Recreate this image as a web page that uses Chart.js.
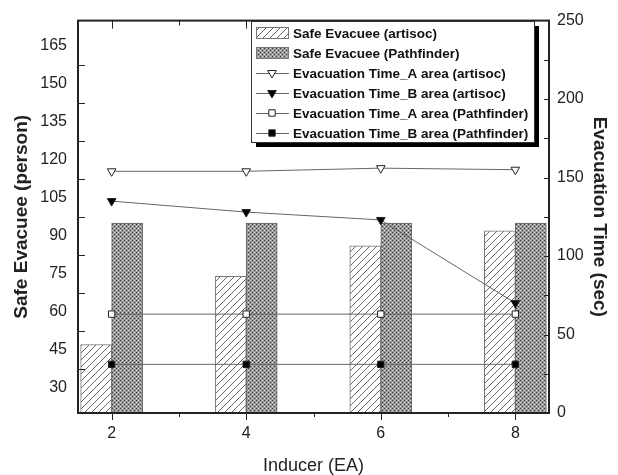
<!DOCTYPE html>
<html>
<head>
<meta charset="utf-8">
<style>
  html, body { margin: 0; padding: 0; background: #fff; }
  #wrap { width: 618px; height: 475px; }
</style>
</head>
<body>
<div id="wrap"><canvas id="evacChart"></canvas></div>
<script src="https://cdn.jsdelivr.net/npm/chart.js"></script>
<script>
    // data
    const inducers = [2, 4, 6, 8];
    const safeArtisoc = [47, 74, 86, 92];
    const safePathfinder = [95, 95, 95, 95];
    const timeAArtisoc = [154, 154, 156, 155];
    const timeBArtisoc = [135, 128, 123, 70];
    const timeAPathfinder = [63, 63, 63, 63];
    const timeBPathfinder = [31, 31, 31, 31];

    const personTicks = [30, 45, 60, 75, 90, 105, 120, 135, 150, 165];
    const secTicks = [0, 50, 100, 150, 200, 250];
    const inducerTicks = [2, 4, 6, 8];

    const FONT = "Arial, 'Liberation Sans', sans-serif";
    Chart.defaults.font.family = FONT;
    Chart.defaults.color = '#222';

    const toPoints = (vals) => vals.map((v, i) => ({ x: inducers[i], y: v }));

    // fill patterns for the bars
    function hatchPattern() {
        const c = document.createElement('canvas');
        c.width = 7; c.height = 7;
        const g = c.getContext('2d');
        g.fillStyle = '#fff';
        g.fillRect(0, 0, 7, 7);
        g.strokeStyle = '#666';
        g.lineWidth = 1;
        g.beginPath();
        g.moveTo(-1, 8); g.lineTo(8, -1);
        g.moveTo(-8, 8); g.lineTo(1, -1);
        g.moveTo(6, 8); g.lineTo(15, -1);
        g.stroke();
        return g.createPattern(c, 'repeat');
    }
    function crossPattern() {
        const c = document.createElement('canvas');
        c.width = 4; c.height = 4;
        const g = c.getContext('2d');
        g.fillStyle = '#9a9a9a';
        g.fillRect(0, 0, 4, 4);
        g.fillStyle = '#333';
        g.fillRect(0, 0, 1, 1);
        g.fillRect(2, 2, 1, 1);
        g.fillStyle = '#dcdcdc';
        g.fillRect(2, 0, 1, 1);
        g.fillRect(0, 2, 1, 1);
        return g.createPattern(c, 'repeat');
    }
    const hatch = hatchPattern();
    const cross = crossPattern();

    // axis frame with inward / outward tick marks, Origin style
    const frameTicks = {
        id: 'frameTicks',
        afterDraw(chart) {
            const { ctx, chartArea: a, scales } = chart;
            ctx.save();
            ctx.strokeStyle = '#222';
            ctx.lineWidth = 1;
            ctx.beginPath();
            for (let v = 2; v <= 8; v++) {
                const px = Math.round(scales.x.getPixelForValue(v)) + 0.5;
                const len = v % 2 === 0 ? 7 : 4;
                ctx.moveTo(px, a.bottom); ctx.lineTo(px, a.bottom + len);
                ctx.moveTo(px, a.top); ctx.lineTo(px, a.top + len + 1);
            }
            for (let i = 0; i < personTicks.length - 1; i++) {
                const py = Math.round(scales.y.getPixelForValue((personTicks[i] + personTicks[i + 1]) / 2)) + 0.5;
                ctx.moveTo(a.left, py); ctx.lineTo(a.left + 7, py);
            }
            for (let v = 25; v < 250; v += 25) {
                const py = Math.round(scales.y2.getPixelForValue(v)) + 0.5;
                ctx.moveTo(a.right, py); ctx.lineTo(a.right - 5, py);
            }
            ctx.stroke();
            ctx.lineWidth = 2;
            ctx.strokeRect(a.left, a.top, a.right - a.left, a.bottom - a.top);
            ctx.restore();
        }
    };

    // boxed legend with drop shadow
    const boxLegend = {
        id: 'boxLegend',
        afterDraw(chart) {
            const ctx = chart.ctx;
            const x0 = 251, y0 = 21, w = 283, h = 121;
            ctx.save();
            ctx.fillStyle = '#000';
            ctx.fillRect(x0 + 5, y0 + 5, w, h);
            ctx.fillStyle = '#fff';
            ctx.fillRect(x0, y0, w, h);
            ctx.strokeStyle = '#333';
            ctx.lineWidth = 1;
            ctx.strokeRect(x0 + 0.5, y0 + 0.5, w, h);
            ctx.font = 'bold 13.5px ' + FONT;
            ctx.textBaseline = 'middle';
            chart.data.datasets.forEach((ds, i) => {
                const cy = y0 + 12 + i * 20;
                if (ds.type === 'bar') {
                    ctx.fillStyle = ds.backgroundColor;
                    ctx.fillRect(256, cy - 6, 33, 12);
                    ctx.strokeStyle = '#777';
                    ctx.strokeRect(256.5, cy - 5.5, 32, 11);
                } else {
                    ctx.strokeStyle = ds.borderColor;
                    ctx.beginPath();
                    ctx.moveTo(256, cy + 0.5); ctx.lineTo(289, cy + 0.5);
                    ctx.stroke();
                    ctx.fillStyle = ds.pointBackgroundColor;
                    ctx.strokeStyle = ds.pointBorderColor;
                    Chart.helpers.drawPoint(ctx, {
                        pointStyle: ds.pointStyle,
                        radius: ds.pointRadius,
                        rotation: ds.pointRotation || 0,
                        borderWidth: 1
                    }, 272, cy);
                }
                ctx.fillStyle = '#111';
                ctx.fillText(ds.label, 293, cy + 1);
            });
            ctx.restore();
        }
    };

    function lineSet(label, vals, fill, style, radius, rotation) {
        return {
            type: 'line',
            label: label,
            data: toPoints(vals),
            yAxisID: 'y2',
            borderColor: '#666',
            borderWidth: 1,
            tension: 0,
            fill: false,
            pointStyle: style,
            pointRadius: radius,
            pointRotation: rotation,
            pointBackgroundColor: fill,
            pointBorderColor: '#222',
            pointBorderWidth: 1,
            order: 1
        };
    }

    const evacCtx = document.getElementById('evacChart').getContext('2d');
    const evacChart = new Chart(evacCtx, {
        data: {
            datasets: [
                {
                    type: 'bar',
                    label: 'Safe Evacuee (artisoc)',
                    data: toPoints(safeArtisoc),
                    yAxisID: 'y',
                    backgroundColor: hatch,
                    borderColor: '#777',
                    borderWidth: 1,
                    barThickness: 31,
                    order: 2
                },
                {
                    type: 'bar',
                    label: 'Safe Evacuee (Pathfinder)',
                    data: toPoints(safePathfinder),
                    yAxisID: 'y',
                    backgroundColor: cross,
                    borderColor: '#666',
                    borderWidth: 1,
                    barThickness: 31,
                    order: 2
                },
                lineSet('Evacuation Time_A area (artisoc)', timeAArtisoc, '#fff', 'triangle', 5, 180),
                lineSet('Evacuation Time_B area (artisoc)', timeBArtisoc, '#000', 'triangle', 5, 180),
                lineSet('Evacuation Time_A area (Pathfinder)', timeAPathfinder, '#fff', 'rect', 4.5, 0),
                lineSet('Evacuation Time_B area (Pathfinder)', timeBPathfinder, '#000', 'rect', 4.5, 0)
            ]
        },
        options: {
            responsive: true,
            maintainAspectRatio: false,
            animation: false,
            layout: { padding: { top: 16 } },
            plugins: {
                legend: { display: false },
                tooltip: { enabled: false }
            },
            scales: {
                x: {
                    type: 'linear',
                    min: 1.5,
                    max: 8.5,
                    offset: false,
                    grid: { display: false, drawTicks: false },
                    border: { display: false },
                    afterBuildTicks: (s) => { s.ticks = inducerTicks.map(v => ({ value: v })); },
                    afterFit: (s) => { s.height = 62; },
                    ticks: { font: { size: 16 }, padding: 11 },
                    title: {
                        display: true,
                        text: 'Inducer (EA)',
                        font: { size: 18 },
                        padding: { top: 0, bottom: -2 }
                    }
                },
                y: {
                    position: 'left',
                    min: 20,
                    max: 175,
                    grid: { display: false, drawTicks: false },
                    border: { display: false },
                    afterBuildTicks: (s) => { s.ticks = personTicks.map(v => ({ value: v })); },
                    afterFit: (s) => { s.width = 78; },
                    ticks: { font: { size: 16 }, padding: 11 },
                    title: {
                        display: true,
                        text: 'Safe Evacuee (person)',
                        font: { size: 19, weight: 'bold' },
                        padding: { top: 10, bottom: 0 }
                    }
                },
                y2: {
                    position: 'right',
                    min: 0,
                    max: 250,
                    grid: { display: false, drawTicks: false },
                    border: { display: false },
                    afterBuildTicks: (s) => { s.ticks = secTicks.map(v => ({ value: v })); },
                    afterFit: (s) => { s.width = 69; },
                    ticks: { font: { size: 16 }, padding: 8 },
                    title: {
                        display: true,
                        text: 'Evacuation Time (sec)',
                        font: { size: 19, weight: 'bold' },
                        padding: { top: 7, bottom: 0 }
                    }
                }
            }
        },
        plugins: [frameTicks, boxLegend]
    });
</script>
</body>
</html>
